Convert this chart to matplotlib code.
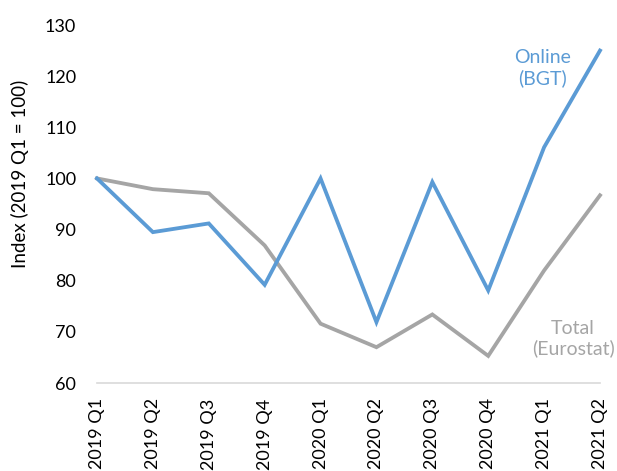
import matplotlib
matplotlib.use('Agg')
import matplotlib.pyplot as plt

plt.rcParams['font.family'] = ['Lato', 'DejaVu Sans']

# quarters and index values (2019 Q1 = 100)
quarters = ['2019 Q1', '2019 Q2', '2019 Q3', '2019 Q4',
            '2020 Q1', '2020 Q2', '2020 Q3', '2020 Q4',
            '2021 Q1', '2021 Q2']
online_bgt = [100, 89.5, 91.2, 79.2, 100.0, 71.9, 99.3, 78.1, 106.1, 125.0]
total_eurostat = [100, 97.9, 97.1, 86.9, 71.6, 67.0, 73.4, 65.3, 82.0, 96.7]
yticks = [60, 70, 80, 90, 100, 110, 120, 130]

blue = '#5B9BD5'
grey = '#A5A5A5'

fig = plt.figure(figsize=(6.17, 4.71), dpi=100)
ax = fig.add_axes([97/617, 1 - 383/471, 503/617, 358/471])

x = list(range(len(quarters)))
ax.plot(x, total_eurostat, color=grey, lw=2.75, solid_joinstyle='miter', clip_on=False)
ax.plot(x, online_bgt, color=blue, lw=2.75, solid_joinstyle='miter', clip_on=False)

ax.set_xlim(0, len(quarters) - 1)
ax.set_ylim(60, 130)
ax.set_yticks(yticks)
ax.set_xticks(x)
ax.set_xticklabels(quarters, rotation=90, fontsize=13)
ax.tick_params(axis='y', length=0, pad=15, labelsize=13)
ax.tick_params(axis='x', length=0, pad=11)

for s in ['top', 'right', 'left']:
    ax.spines[s].set_visible(False)
ax.spines['bottom'].set_color('#D9D9D9')
ax.spines['bottom'].set_linewidth(1.2)

ax.set_ylabel('Index (2019 Q1 = 100)', fontsize=13.5)
ax.yaxis.set_label_coords(-0.135, 0.585)

ax.text(7.98, 121.6, 'Online\n(BGT)', color=blue, fontsize=14,
        ha='center', va='center', linespacing=1.2)
ax.text(8.52, 68.7, 'Total\n(Eurostat)', color=grey, fontsize=14,
        ha='center', va='center', linespacing=1.2)

plt.savefig('out.png', dpi=100)
